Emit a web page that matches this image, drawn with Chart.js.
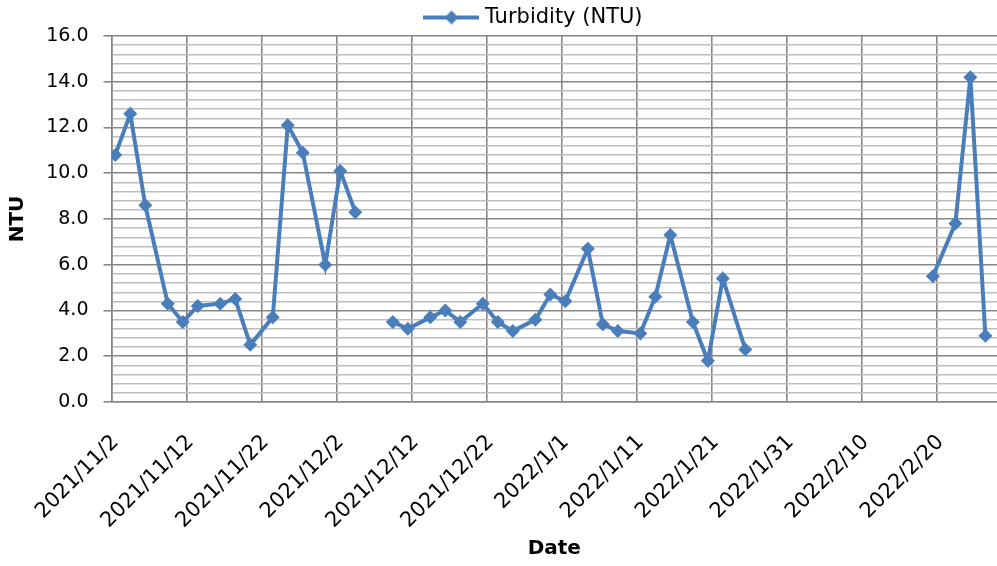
<!DOCTYPE html>
<html>
<head>
<meta charset="utf-8">
<title>Turbidity (NTU)</title>
<script src="https://cdn.jsdelivr.net/npm/chart.js@4.4.1/dist/chart.umd.min.js"></script>
<style>
    html, body { margin: 0; padding: 0; background: #fff; }
    #wrap { width: 997px; height: 566px; position: relative; }
</style>
</head>
<body>
<div id="wrap"><canvas id="chart"></canvas></div>
<script>
// Sampling dates and turbidity readings (null = no reading, breaks the line)
const sampleDates = [
    '2021/11/2', '2021/11/4', '2021/11/6', '2021/11/9', '2021/11/11', '2021/11/13',
    '2021/11/16', '2021/11/18', '2021/11/20', '2021/11/23', '2021/11/25', '2021/11/27',
    '2021/11/30', '2021/12/2', '2021/12/4',
    '2021/12/6',
    '2021/12/9', '2021/12/11', '2021/12/14', '2021/12/16', '2021/12/18', '2021/12/21',
    '2021/12/23', '2021/12/25', '2021/12/28', '2021/12/30', '2022/1/1', '2022/1/4',
    '2022/1/6', '2022/1/8', '2022/1/11', '2022/1/13', '2022/1/15', '2022/1/18',
    '2022/1/20', '2022/1/22', '2022/1/25',
    '2022/2/5',
    '2022/2/19', '2022/2/22', '2022/2/24', '2022/2/26'
];
const turbidity = [
    10.8, 12.6, 8.6, 4.3, 3.5, 4.2,
    4.3, 4.5, 2.5, 3.7, 12.1, 10.9,
    6.0, 10.1, 8.3,
    null,
    3.5, 3.2, 3.7, 4.0, 3.5, 4.3,
    3.5, 3.1, 3.6, 4.7, 4.4, 6.7,
    3.4, 3.1, 3.0, 4.6, 7.3, 3.5,
    1.8, 5.4, 2.3,
    null,
    5.5, 7.8, 14.2, 2.9
];

// Axis labels
const xTickLabels = [
    '2021/11/2', '2021/11/12', '2021/11/22', '2021/12/2', '2021/12/12', '2021/12/22',
    '2022/1/1', '2022/1/11', '2022/1/21', '2022/1/31', '2022/2/10', '2022/2/20'
];
const yMin = 0;
const yMax = 16;
const yMinorStep = 0.4;
const yMajorStep = 2;

const SERIES_COLOR = '#4a7ebb';
const MAJOR_GRID = '#878787';
const MINOR_GRID = '#bdbdbd';
const FONT = 'DejaVu Sans';

// days since the first label; each day is a slot, readings sit mid-slot
function dayOf(str) {
    const [y, m, d] = str.split('/').map(Number);
    return (Date.UTC(y, m - 1, d) - Date.UTC(2021, 10, 2)) / 86400000;
}

const points = sampleDates.map((d, i) => ({ x: dayOf(d), y: turbidity[i] }));
const tickPos = xTickLabels.map(l => dayOf(l) - 0.5);

const isMajor = v => Math.abs(v / yMajorStep - Math.round(v / yMajorStep)) < 1e-6;

// legend swatch: line with a diamond in the middle
function legendSwatch() {
    const c = document.createElement('canvas');
    c.width = 56; c.height = 18;
    const g = c.getContext('2d');
    g.strokeStyle = SERIES_COLOR;
    g.lineWidth = 4;
    g.beginPath(); g.moveTo(0, 9); g.lineTo(56, 9); g.stroke();
    g.fillStyle = SERIES_COLOR;
    g.beginPath();
    g.moveTo(28, 2); g.lineTo(35, 9); g.lineTo(28, 16); g.lineTo(21, 9);
    g.closePath(); g.fill();
    return c;
}
const swatch = legendSwatch();

// nudge the legend right and slightly down
const legendShift = {
    id: 'legendShift',
    afterLayout(chart) {
        chart.legend.left += 37;
        chart.legend.right += 37;
        chart.legend.top += 2;
        chart.legend.bottom += 2;
    }
};

new Chart(document.getElementById('chart').getContext('2d'), {
    type: 'line',
    data: {
        datasets: [{
            label: 'Turbidity (NTU)',
            data: points,
            borderColor: SERIES_COLOR,
            backgroundColor: SERIES_COLOR,
            borderWidth: 4,
            pointStyle: 'rectRot',
            pointRadius: 7,
            pointBorderWidth: 0,
            pointBackgroundColor: SERIES_COLOR,
            tension: 0,
            spanGaps: false
        }]
    },
    plugins: [legendShift],
    options: {
        responsive: true,
        maintainAspectRatio: false,
        animation: false,
        layout: { autoPadding: false, padding: { left: 0, right: 0, top: 0, bottom: 0 } },
        plugins: {
            legend: {
                display: true,
                position: 'top',
                labels: {
                    color: '#000',
                    font: { family: FONT, size: 21 },
                    padding: 5,
                    usePointStyle: true,
                    pointStyleWidth: 46,
                    generateLabels: (chart) => [{
                        text: chart.data.datasets[0].label,
                        pointStyle: swatch,
                        fillStyle: SERIES_COLOR,
                        strokeStyle: SERIES_COLOR,
                        lineWidth: 0,
                        datasetIndex: 0
                    }]
                }
            },
            tooltip: { enabled: false }
        },
        scales: {
            x: {
                type: 'linear',
                min: -0.5,
                max: 117.55,
                afterBuildTicks: (scale) => {
                    scale.ticks = tickPos.map(v => ({ value: v }));
                },
                afterFit: (scale) => { scale.height = 164; },
                ticks: {
                    autoSkip: false,
                    maxRotation: 45,
                    minRotation: 45,
                    padding: 28,
                    labelOffset: 4,
                    color: '#000',
                    font: { family: FONT, size: 21 },
                    callback: (value) => {
                        const i = tickPos.findIndex(p => Math.abs(p - value) < 1e-6);
                        return i >= 0 ? xTickLabels[i] : '';
                    }
                },
                grid: {
                    color: MAJOR_GRID,
                    lineWidth: 1.6,
                    drawTicks: false
                },
                border: { color: MAJOR_GRID, width: 1.6 },
                title: {
                    display: true,
                    text: 'Date',
                    color: '#000',
                    font: { family: FONT, size: 20, weight: 'bold' },
                    padding: { top: 0, bottom: 5 }
                }
            },
            y: {
                min: yMin,
                max: yMax,
                afterFit: (scale) => { scale.width = 111.5; },
                ticks: {
                    stepSize: yMinorStep,
                    autoSkip: false,
                    padding: 15,
                    color: '#000',
                    font: { family: FONT, size: 19 },
                    callback: (value) => isMajor(value) ? value.toFixed(1) : ''
                },
                grid: {
                    color: (ctx) => isMajor(ctx.tick.value) ? MAJOR_GRID : MINOR_GRID,
                    lineWidth: (ctx) => isMajor(ctx.tick.value) ? 1.6 : 1.4,
                    tickColor: (ctx) => isMajor(ctx.tick.value) ? MAJOR_GRID : 'rgba(0,0,0,0)',
                    tickLength: 8
                },
                border: { color: MAJOR_GRID, width: 1.6 },
                title: {
                    display: true,
                    text: 'NTU',
                    color: '#000',
                    font: { family: FONT, size: 20, weight: 'bold' },
                    padding: { top: 6, bottom: 0 }
                }
            }
        }
    }
});
</script>
</body>
</html>
